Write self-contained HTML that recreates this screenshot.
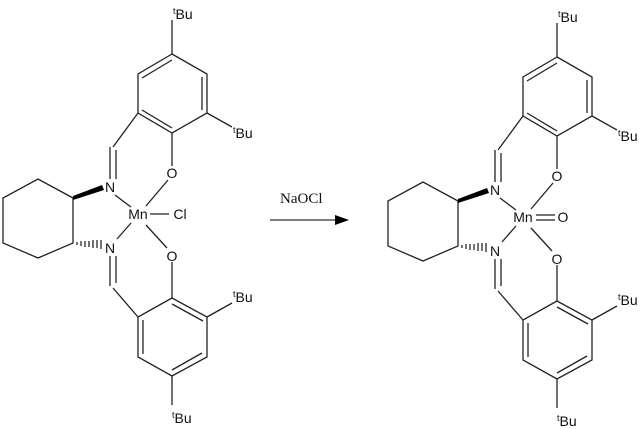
<!DOCTYPE html>
<html><head><meta charset="utf-8"><style>
html,body{margin:0;padding:0;background:#fff;width:642px;height:429px;overflow:hidden}
svg text{font-family:"Liberation Sans",sans-serif;font-size:14px;fill:#111}
</style></head><body>
<svg width="642" height="429" viewBox="0 0 642 429" xmlns="http://www.w3.org/2000/svg">
<defs>
<g id="mol" stroke="#222" stroke-width="1.3" fill="none">
  <polyline points="172,54 207,74 207,113 172,133 138,113 138,74 172,54"/>
  <line x1="142" y1="78" x2="172" y2="60"/>
  <line x1="202" y1="77" x2="202" y2="110"/>
  <line x1="142" y1="110" x2="172" y2="128"/>
  <line x1="172" y1="54" x2="172" y2="20"/>
  <line x1="207" y1="113" x2="232" y2="127"/>
  <line x1="138" y1="113" x2="113" y2="147"/>
  <line x1="110" y1="147" x2="110" y2="179"/>
  <line x1="116" y1="150" x2="116" y2="179"/>
  <line x1="172" y1="133" x2="172" y2="166"/>
  <line x1="168" y1="180" x2="146" y2="206"/>
  <line x1="115" y1="195" x2="131" y2="207"/>
  <line x1="131" y1="223" x2="117" y2="239"/>
  <line x1="146" y1="225" x2="167" y2="248"/>
  <line x1="110" y1="256" x2="110" y2="286"/>
  <line x1="116" y1="256" x2="116" y2="283"/>
  <line x1="113" y1="288" x2="138" y2="317"/>
  <line x1="172" y1="262" x2="172" y2="298"/>
  <polyline points="172,298 207,317 207,357 172,376 138,357 138,317 172,298"/>
  <line x1="172" y1="304" x2="203" y2="321"/>
  <line x1="143" y1="320" x2="143" y2="354"/>
  <line x1="172" y1="370" x2="202" y2="353"/>
  <line x1="207" y1="317" x2="232" y2="303"/>
  <line x1="172" y1="376" x2="172" y2="405"/>
  <polyline points="73,198 38,179 3,198 3,243 38,258 73,243 73,198"/>
</g>
</defs>

<g id="left">
<use href="#mol"/>
<polygon points="73,196 73,200 104,190 102,185" fill="#000"/>
<g stroke="#000" stroke-width="1.1">
  <line x1="77" y1="242" x2="77" y2="245"/><line x1="81" y1="241" x2="81" y2="246"/>
  <line x1="85" y1="241" x2="85" y2="247"/><line x1="89" y1="241" x2="89" y2="247"/>
  <line x1="93" y1="240" x2="93" y2="248"/><line x1="97" y1="240" x2="97" y2="248"/>
  <line x1="101" y1="240" x2="101" y2="249"/>
</g>
<line x1="150" y1="214" x2="169" y2="214" stroke="#222" stroke-width="1.3"/>
<text x="110" y="192" text-anchor="middle">N</text>
<text x="110" y="253" text-anchor="middle">N</text>
<text x="172" y="178" text-anchor="middle">O</text>
<text x="172" y="261" text-anchor="middle">O</text>
<text x="138" y="219" text-anchor="middle">Mn</text>
<text x="180" y="219" text-anchor="middle">Cl</text>
<text x="173" y="19"><tspan font-size="9" dy="-5">t</tspan><tspan dy="5">Bu</tspan></text>
<text x="233" y="138"><tspan font-size="9" dy="-5">t</tspan><tspan dy="5">Bu</tspan></text>
<text x="233" y="302"><tspan font-size="9" dy="-5">t</tspan><tspan dy="5">Bu</tspan></text>
<text x="172" y="423"><tspan font-size="9" dy="-5">t</tspan><tspan dy="5">Bu</tspan></text>
</g>

<g transform="translate(385,3)">
<use href="#mol"/>
<polygon points="73,196 73,200 104,190 102,185" fill="#000"/>
<g stroke="#000" stroke-width="1.1">
  <line x1="77" y1="242" x2="77" y2="245"/><line x1="81" y1="241" x2="81" y2="246"/>
  <line x1="85" y1="241" x2="85" y2="247"/><line x1="89" y1="241" x2="89" y2="247"/>
  <line x1="93" y1="240" x2="93" y2="248"/><line x1="97" y1="240" x2="97" y2="248"/>
  <line x1="101" y1="240" x2="101" y2="249"/>
</g>
<line x1="151" y1="212" x2="170" y2="212" stroke="#222" stroke-width="1.3"/>
<line x1="151" y1="217" x2="170" y2="217" stroke="#222" stroke-width="1.3"/>
<text x="110" y="192" text-anchor="middle">N</text>
<text x="110" y="253" text-anchor="middle">N</text>
<text x="172" y="178" text-anchor="middle">O</text>
<text x="172" y="261" text-anchor="middle">O</text>
<text x="138" y="219" text-anchor="middle">Mn</text>
<text x="178" y="219" text-anchor="middle">O</text>
<text x="173" y="19"><tspan font-size="9" dy="-5">t</tspan><tspan dy="5">Bu</tspan></text>
<text x="233" y="138"><tspan font-size="9" dy="-5">t</tspan><tspan dy="5">Bu</tspan></text>
<text x="233" y="302"><tspan font-size="9" dy="-5">t</tspan><tspan dy="5">Bu</tspan></text>
<text x="172" y="423"><tspan font-size="9" dy="-5">t</tspan><tspan dy="5">Bu</tspan></text>
</g>

<line x1="270" y1="220" x2="338" y2="220" stroke="#555" stroke-width="1.5"/>
<polygon points="335,215 349,220 335,225" fill="#000"/>
<text x="280" y="203" style="font-family:'Liberation Serif',serif;font-size:15px">NaOCl</text>
</svg>
</body></html>
